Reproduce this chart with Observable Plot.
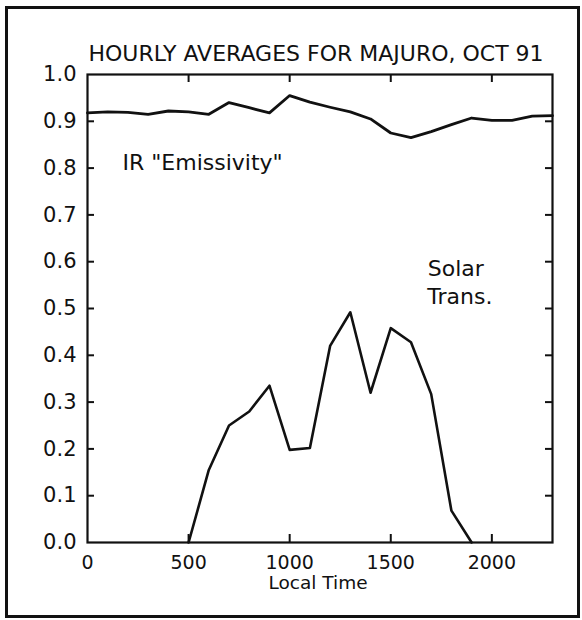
<!DOCTYPE html>
<html>
<head>
<meta charset="utf-8">
<script src="https://cdn.jsdelivr.net/npm/d3@7"></script>
<script src="https://cdn.jsdelivr.net/npm/@observablehq/plot@0.6"></script>
<style>
  html, body { margin: 0; padding: 0; background: #fff; }
  #wrap { position: relative; width: 582px; height: 620px; }
  #border { position: absolute; left: 5px; top: 6px; width: 569px; height: 606px; border: 3px solid #111; pointer-events: none; }
  svg { font-family: "DejaVu Sans", sans-serif; }
</style>
</head>
<body>
<div id="wrap"><div id="border"></div></div>
<script>
// Local time (hours, HHMM)
const hours = [0,100,200,300,400,500,600,700,800,900,1000,1100,1200,1300,1400,1500,1600,1700,1800,1900,2000,2100,2200,2300];
// IR "Emissivity"
const emissivity = [0.918,0.920,0.919,0.915,0.922,0.920,0.915,0.940,0.929,0.918,0.955,0.941,0.930,0.920,0.905,0.875,0.865,0.878,0.893,0.907,0.902,0.902,0.911,0.912];
// Solar transmission (daylight hours)
const solarHours = [500,600,700,800,900,1000,1100,1200,1300,1400,1500,1600,1700,1800,1900];
const solar = [0.0,0.155,0.25,0.28,0.335,0.198,0.202,0.42,0.492,0.32,0.458,0.428,0.317,0.068,0.0];
// Tick labels
const xTicks = [0,500,1000,1500,2000];
const xInnerTicks = [500,1000,1500,2000];
const yTicks = [0,0.1,0.2,0.3,0.4,0.5,0.6,0.7,0.8,0.9,1.0];
const yInnerTicks = [0.1,0.2,0.3,0.4,0.5,0.6,0.7,0.8,0.9];
const title = "HOURLY AVERAGES FOR MAJURO, OCT 91";
const xLabel = "Local Time";

const W = 582, H = 620, mL = 87, mR = 30, mT = 74, mB = 78;
const fw = W - mL - mR, fh = H - mT - mB;

const irData = hours.map((h, i) => ({h, v: emissivity[i]}));
const solarData = solarHours.map((h, i) => ({h, v: solar[i]}));

const chart = Plot.plot({
  width: W, height: H,
  marginLeft: mL, marginRight: mR, marginTop: mT, marginBottom: mB,
  style: {fontFamily: "DejaVu Sans, sans-serif", background: "transparent", color: "#111"},
  x: {domain: [0, 2300]},
  y: {domain: [0, 1]},
  marks: [
    Plot.frame({stroke: "#111", strokeWidth: 2.2}),
    // inward ticks
    Plot.tickY(yInnerTicks, {y: d => d, insetRight: fw - 7, stroke: "#111", strokeWidth: 2}),
    Plot.tickY(yInnerTicks, {y: d => d, insetLeft: fw - 7, stroke: "#111", strokeWidth: 2}),
    Plot.tickX(xInnerTicks, {x: d => d, insetTop: fh - 8, stroke: "#111", strokeWidth: 2}),
    Plot.tickX(xInnerTicks, {x: d => d, insetBottom: fh - 8, stroke: "#111", strokeWidth: 2}),
    Plot.axisY(yTicks, {tickSize: 0, tickPadding: 11, tickFormat: d3.format(".1f"), fontSize: 21, letterSpacing: 2, fill: "#111", label: null}),
    Plot.axisX(xTicks, {tickSize: 0, tickPadding: 13, tickFormat: d => String(d), fontSize: 19, letterSpacing: 1, fill: "#111", label: null}),
    Plot.lineY(irData, {x: "h", y: "v", stroke: "#111", strokeWidth: 2.8}),
    Plot.lineY(solarData, {x: "h", y: "v", stroke: "#111", strokeWidth: 2.6}),
    Plot.text([title], {frameAnchor: "top", dx: -4, dy: -29, fontSize: 22, letterSpacing: 0.3, fill: "#111"}),
    Plot.text([xLabel], {frameAnchor: "bottom", dx: -2, dy: 46, fontSize: 18.5, letterSpacing: 0.8, fill: "#111"}),
    Plot.text(['IR "Emissivity"'], {x: 173, y: 0.812, textAnchor: "start", fontSize: 22, letterSpacing: 1, fill: "#111"}),
    Plot.text(["Solar"], {x: 1822, y: 0.585, fontSize: 22, letterSpacing: 1, fill: "#111"}),
    Plot.text(["Trans."], {x: 1842, y: 0.524, fontSize: 22, letterSpacing: 1, fill: "#111"})
  ]
});
document.getElementById("wrap").prepend(chart);
</script>
</body>
</html>
